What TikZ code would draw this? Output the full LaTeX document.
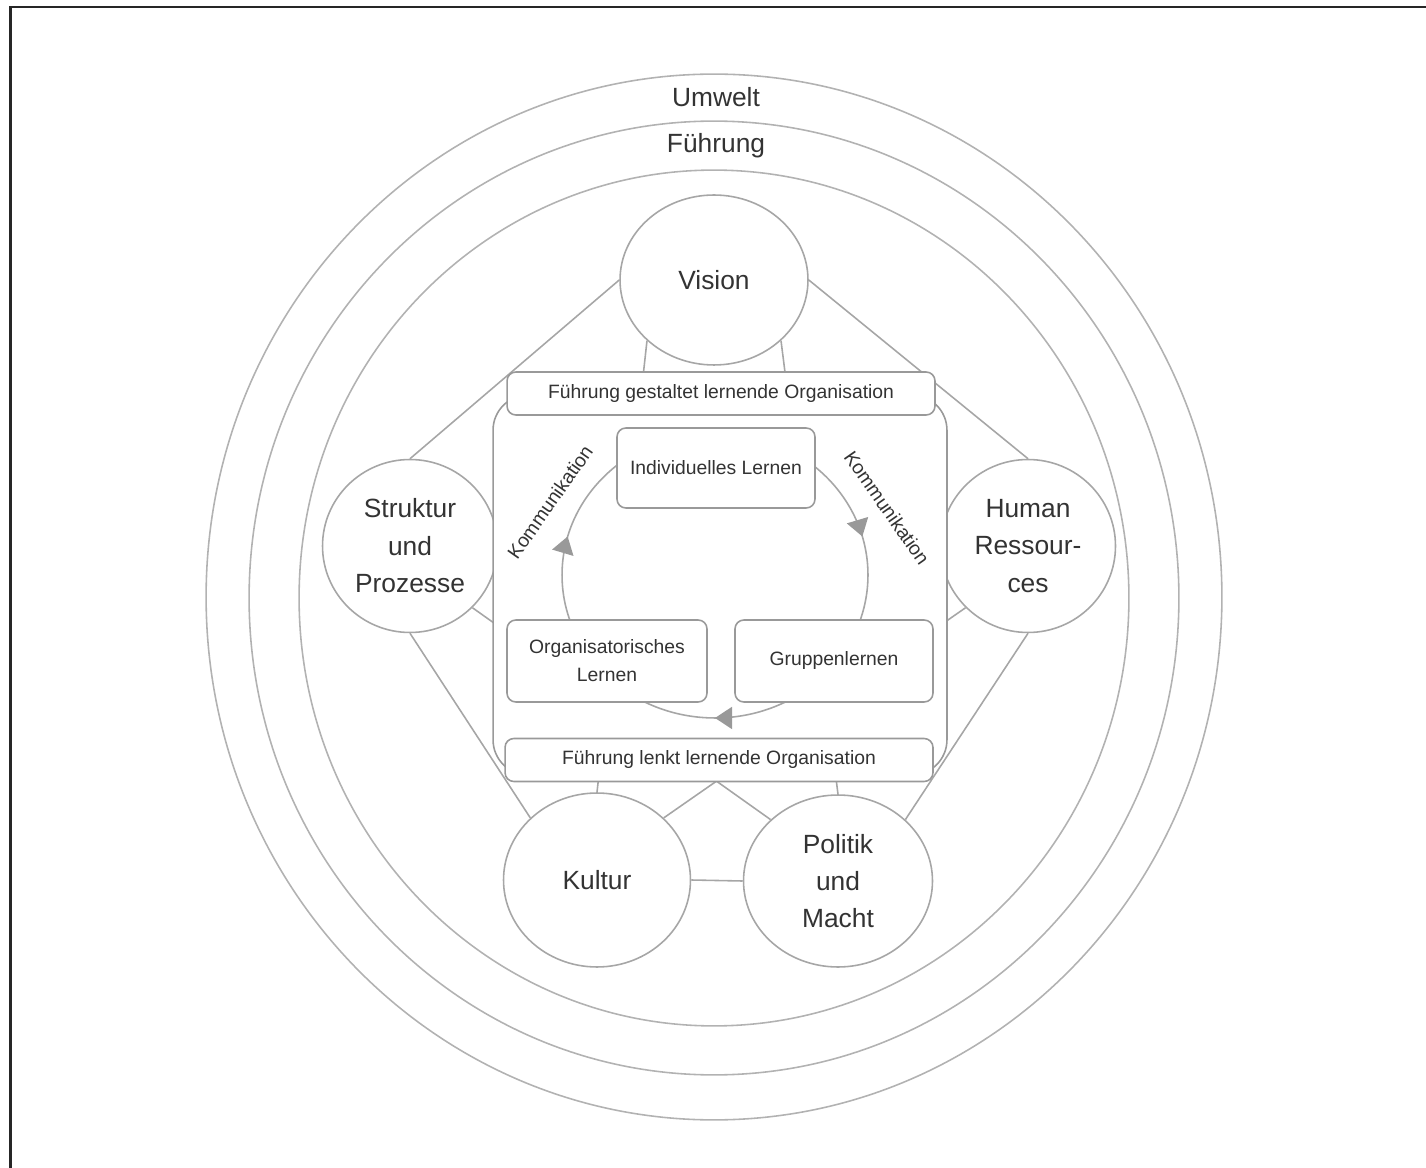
\documentclass[tikz,border=0pt]{standalone}
\usepackage{fontspec}
\setmainfont{Liberation Sans}
\usetikzlibrary{arrows.meta,shapes.geometric,decorations.markings,backgrounds}
\newcommand{\BigFont}{\fontsize{15}{21.3}\selectfont}
\newcommand{\SmallFont}{\fontsize{11}{16}\selectfont}
\tikzset{
    >=Stealth,
    tri/.tip={Triangle[width=0.44cm,length=0.34cm]},
    ring/.style={draw=black!30,line width=0.9pt},
    link/.style={draw=black!35,line width=0.9pt},
    topic/.style={ellipse,draw=black!35,fill=white,line width=0.9pt,inner sep=0pt,align=center,text=black!80,font=\BigFont},
    learnbox/.style={rectangle,rounded corners=5pt,draw=black!40,fill=white,line width=0.9pt,align=center,text=black!80,font=\SmallFont},
    banner/.style={learnbox,minimum width=8.56cm,minimum height=0.86cm},
    loopline/.style={draw=black!35,line width=0.9pt,
        decoration={markings,
            mark=at position 0.042 with {\arrowreversed[black!40,fill=black!40]{tri}},
            mark=at position 0.458 with {\arrowreversed[black!40,fill=black!40]{tri}},
            mark=at position 0.75 with {\arrowreversed[black!40,fill=black!40]{tri}}},
        postaction={decorate}},
    komm/.style={font=\SmallFont,text=black!80,inner sep=1pt}
}

\begin{document}
\begin{tikzpicture}[x=0.02cm,y=-0.02cm]
    \useasboundingbox (0,0) rectangle (1426,1168);
    \draw[line width=1.4pt,draw=black!85] (10.5,1168) -- (10.5,7) -- (1426,7);

    % Umwelt / Fuehrung rings
    \draw[ring] (714,597) ellipse [x radius=10.16cm, y radius=10.46cm];
    \draw[ring] (714,598) ellipse [x radius=9.3cm, y radius=9.54cm];
    \draw[ring] (714,598) ellipse [x radius=8.3cm, y radius=8.56cm];
    \node[font=\BigFont,text=black!80] (umwelt) at (716,97) {Umwelt};
    \node[font=\BigFont,text=black!80] (fuehrung) at (716,146) {Führung};

    % the five fields
    \node[topic,minimum width=3.76cm,minimum height=3.4cm] (vision) at (714,280) {Vision};
    \node[topic,minimum width=3.5cm,minimum height=3.46cm] (struktur) at (410,546) {Struktur\\und\\Prozesse};
    \node[topic,minimum width=3.5cm,minimum height=3.46cm] (human) at (1028,546) {Human\\Ressour-\\ces};
    \node[topic,minimum width=3.74cm,minimum height=3.48cm] (kultur) at (597,880) {Kultur};
    \node[topic,minimum width=3.78cm,minimum height=3.44cm] (politik) at (838,881) {Politik\\und\\Macht};

    \node[draw=black!40,fill=white,rounded corners=20pt,line width=0.9pt,minimum width=9.08cm,minimum height=7.6cm] (core) at (720,585) {};
    \node[banner] (gestaltet) at (721,393.5) {Führung gestaltet lernende Organisation};
    \node[banner] (lenkt) at (719,760) {Führung lenkt lernende Organisation};

    \draw[loopline] (715,575) ellipse [x radius=3.06cm, y radius=2.86cm];

    \node[learnbox,minimum width=3.96cm,minimum height=1.6cm] (indiv) at (716,468) {Individuelles Lernen};
    \node[learnbox,minimum width=4cm,minimum height=1.64cm] (orga) at (607,661) {Organisatorisches\\Lernen};
    \node[learnbox,minimum width=3.96cm,minimum height=1.64cm] (gruppe) at (834,661) {Gruppenlernen};

    \node[komm,rotate=55] (kommL) at (550,502) {Kommunikation};
    \node[komm,rotate=-55] (kommR) at (887,508) {Kommunikation};

    \begin{scope}[on background layer]
        \draw[link] (vision.west) -- (struktur.north);
        \draw[link] (vision.east) -- (human.north);
        \draw[link] (struktur.south) -- (kultur.north west);
        \draw[link] (human.south) -- (politik.north east);
        \draw[link] (kultur.east) -- (politik.west);
        \draw[link] (vision.south west) -- (kultur.north);
        \draw[link] (vision.south east) -- (politik.north);
        \draw[link] (struktur.south east) -- (politik.north west);
        \draw[link] (human.south west) -- (kultur.north east);
    \end{scope}
\end{tikzpicture}
\end{document}
